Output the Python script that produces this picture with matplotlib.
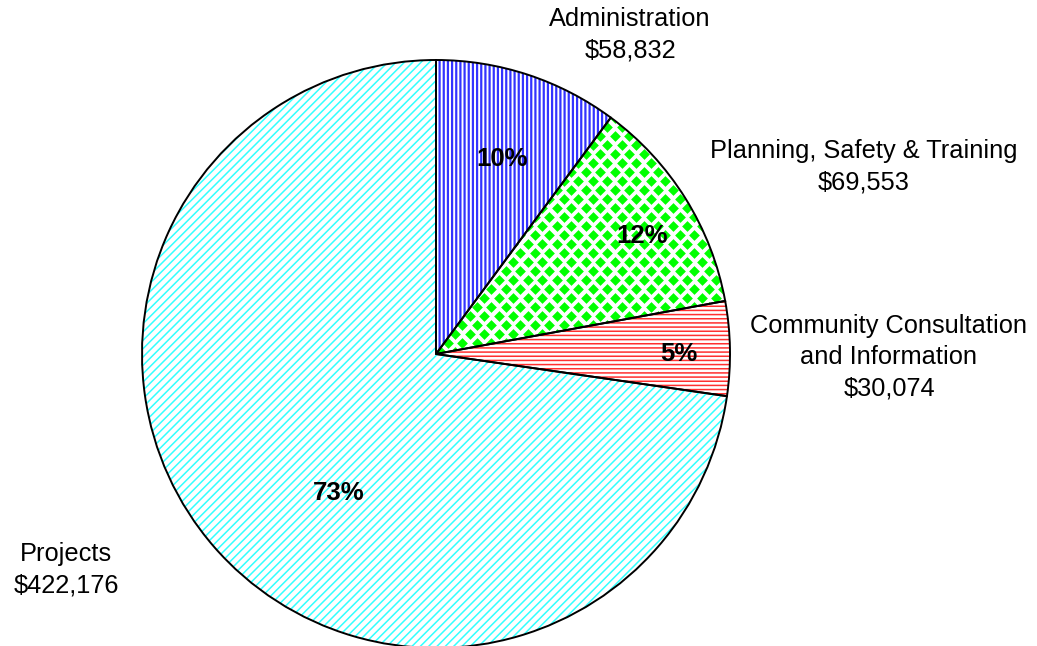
import numpy as np
import matplotlib
matplotlib.use("Agg")
import matplotlib.pyplot as plt

plt.rcParams['font.family'] = ['Liberation Sans', 'DejaVu Sans']
plt.rcParams['hatch.linewidth'] = 1.2

categories = ["Administration", "Planning, Safety & Training",
              "Community Consultation\nand Information", "Projects"]
values = [58832, 69553, 30074, 422176]
hatch_colors = ["#3333ff", "#00ff00", "#ff3030", "#33ffff"]
hatches = ["||||", None, "----", "////"]
hatch_widths = [1.6, 1.2, 1.1, 1.1]

# label layout (pixel coordinates, origin bottom-left)
label_pos = [(630, 611), (864, 479), (889, 289), (66, 76)]
pct_pos = [(502, 487), (642, 410), (679, 292), (339, 153)]

W, H = 1037, 646
fig = plt.figure(figsize=(W / 100, H / 100), dpi=100)
ax = fig.add_axes([0, 0, 1, 1])

center = (436, H - 354)
radius = 294

total = sum(values)

wedges, _ = ax.pie(values, radius=radius, center=center, startangle=90,
                   counterclock=False, frame=True,
                   wedgeprops=dict(facecolor="white", linewidth=0))
for w, hc, ht, hw in zip(wedges, hatch_colors, hatches, hatch_widths):
    w.set_edgecolor(hc)
    if ht:
        w.set_hatch(ht)
        try:
            w.set_hatch_linewidth(hw)
        except AttributeError:
            pass

# diamond pattern for the green wedge
px, py = 14.5, 9.0
xs, ys = [], []
j = 0
y = center[1] - radius - 10
while y < center[1] + radius + 10:
    off = (px / 2) if j % 2 else 0
    x = center[0] - 10 + off
    while x < center[0] + radius + 10:
        xs.append(x)
        ys.append(y)
        x += px
    y += py
    j += 1
sc = ax.scatter(xs, ys, marker="D", s=30, c=hatch_colors[1], linewidths=0, zorder=2)
sc.set_clip_path(wedges[1])

outline, _ = ax.pie(values, radius=radius, center=center, startangle=90,
                    counterclock=False, frame=True,
                    wedgeprops=dict(fill=False, edgecolor="black", linewidth=1.4))
for o in outline:
    o.set_zorder(3)

for cat, v, (lx, ly) in zip(categories, values, label_pos):
    ax.text(lx, ly, f"{cat}\n${v:,}", ha="center", va="center",
            fontsize=18.3, linespacing=1.38, zorder=4)

for v, (tx, ty) in zip(values, pct_pos):
    ax.text(tx, ty, f"{round(v / total * 100)}%", ha="center", va="center",
            fontsize=18.5, fontweight="bold", zorder=4)

ax.set_xlim(0, W)
ax.set_ylim(0, H)
ax.set_aspect("equal")
ax.axis("off")

fig.savefig("out.png", dpi=100)
